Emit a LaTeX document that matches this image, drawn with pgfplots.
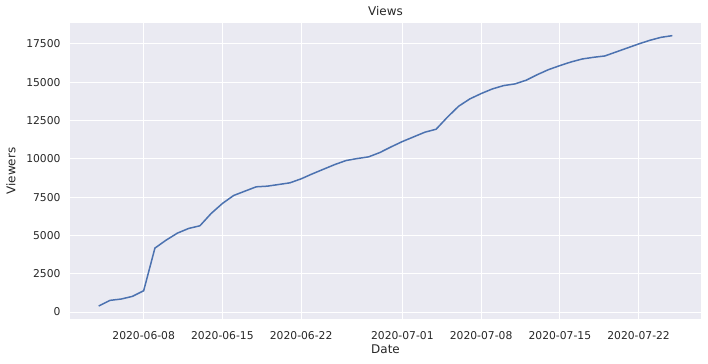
\documentclass[border=0pt]{standalone}
\usepackage{fontspec}
\setmainfont{DejaVu Sans}
\usepackage{pgfplots}
\pgfplotsset{compat=1.18}
\definecolor{sbbg}{HTML}{EAEAF2}
\definecolor{sbblue}{HTML}{4C72B0}
\definecolor{sbtext}{HTML}{262626}
\begin{document}
\begin{tikzpicture}
\path[use as bounding box] (-70bp,-45bp) rectangle (638bp,319bp);
\begin{axis}[
  at={(0,0)}, anchor=south west,
  scale only axis,
  width=631bp, height=296bp,
  xmin=0.45, xmax=56.55,
  ymin=-455, ymax=18870,
  axis background/.style={fill=sbbg},
  axis line style={draw=none},
  major tick length=0pt,
  grid=major,
  grid style={white, line width=1bp},
  xtick={7,14,21,30,37,44,51},
  xticklabels={2020-06-08,2020-06-15,2020-06-22,2020-07-01,2020-07-08,2020-07-15,2020-07-22},
  ytick={0,2500,5000,7500,10000,12500,15000,17500},
  scaled y ticks=false,
  yticklabel={\pgfmathprintnumber[fixed,precision=0,1000 sep={},assume math mode=true]{\tick}},
  ticklabel style={font=\fontsize{10.8}{12}\selectfont, text=sbtext},
  xticklabel style={yshift=-9bp},
  yticklabel style={xshift=-6bp},
  title={Views},
  title style={font=\fontsize{12}{14}\selectfont, text=sbtext, at={(0.5,1)}, anchor=south, yshift=-2bp},
  xlabel={Date},
  ylabel={Viewers},
  label style={font=\fontsize{12}{14}\selectfont, text=sbtext},
  xlabel style={at={(0.5,0)}, anchor=north, yshift=-22bp},
  ylabel style={at={(0,0.5)}, anchor=south, yshift=51bp},
]
\addplot[sbblue, line width=1.5bp, mark=none] coordinates {
(3,391) (4,761) (5,848) (6,1022) (7,1391) (8,4174) (9,4696) (10,5152)
(11,5457) (12,5631) (13,6435) (14,7087) (15,7609) (16,7892) (17,8174)
(18,8218) (19,8326) (20,8435) (21,8696) (22,9022) (23,9327) (24,9631)
(25,9892) (26,10022) (27,10131) (28,10413) (29,10783) (30,11131)
(31,11435) (32,11740) (33,11935) (34,12718) (35,13435) (36,13914)
(37,14261) (38,14566) (39,14783) (40,14892) (41,15131) (42,15500)
(43,15827) (44,16088) (45,16327) (46,16522) (47,16631) (48,16718)
(49,16979) (50,17240) (51,17500) (52,17740) (53,17935) (54,18044)
};
\end{axis}
\end{tikzpicture}
\end{document}
